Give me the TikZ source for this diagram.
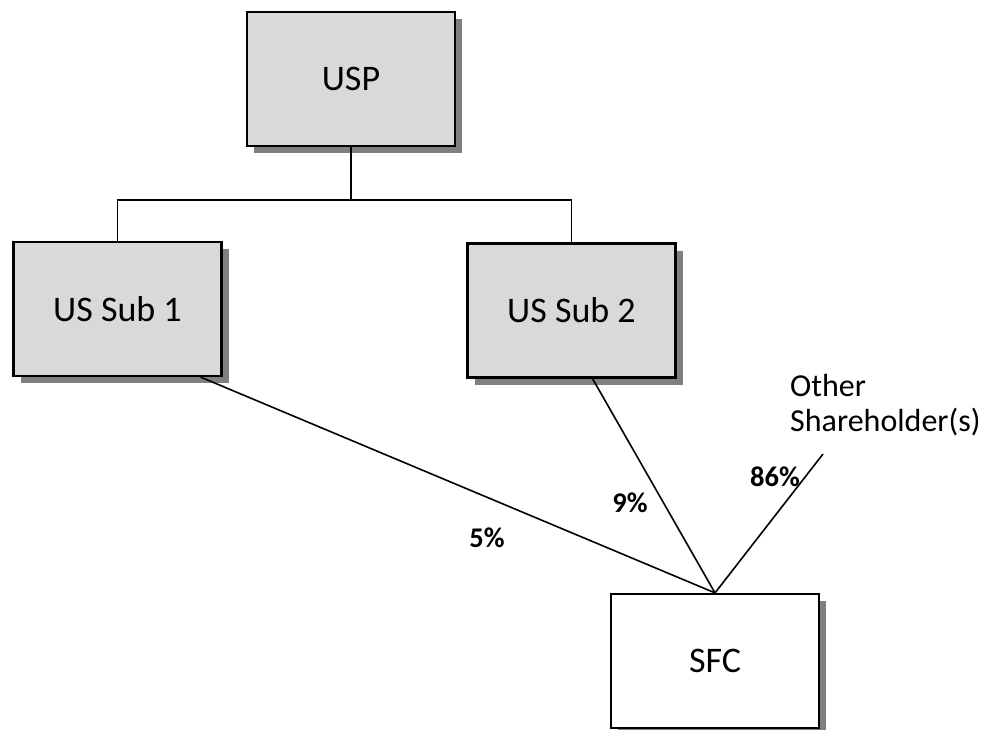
\documentclass[tikz,border=0pt]{standalone}
\usepackage{fontspec}
\setmainfont{Carlito}
\usetikzlibrary{shadows,calc}
\definecolor{boxgray}{HTML}{D9D9D9}
\definecolor{shadowgray}{HTML}{808080}
\tikzset{
  entity/.style={draw=black, line width=2.2pt, rectangle, minimum width=208pt,
    minimum height=134pt, inner sep=0pt, font=\fontsize{36}{40}\selectfont,
    drop shadow={shadow xshift=7pt, shadow yshift=-7pt, opacity=1, fill=shadowgray}},
  usent/.style={entity, fill=boxgray},
  foreign/.style={entity, fill=white},
  link/.style={draw=black, line width=1.6pt},
  pct/.style={font=\bfseries\fontsize{28.5}{32}\selectfont, inner sep=0pt},
  note/.style={font=\fontsize{32}{35}\selectfont, align=left, inner sep=0pt}
}
\begin{document}
\begin{tikzpicture}[x=1pt, y=-1pt]
  \useasboundingbox (0,0) rectangle (983,729);

  % ownership entities
  \node[usent] (usp)  at (351,79)    {USP};
  \node[usent] (sub1) at (117.5,309) {US Sub 1};
  \node[usent] (sub2) at (571.5,310.5) {US Sub 2};
  \node[foreign] (sfc) at (715,661)  {SFC};

  % parent to subsidiaries
  \coordinate (bus) at (351,200);
  \draw[link] (usp.south) -- (bus);
  \draw[link] (sub1.north) |- (bus) -| (sub2.north);

  % holdings in SFC
  \coordinate (s1out) at ([xshift=-22pt]sub1.south east);
  \coordinate (s2out) at ([xshift=21pt]sub2.south);
  \coordinate (others) at (823,454);
  \draw[link] (s1out) -- (sfc.north);
  \draw[link] (s2out) -- (sfc.north);
  \draw[link] (others) -- (sfc.north);

  \node[note, anchor=north west] (otherlbl) at (790,374) {Other\\Shareholder(s)};

  \node[pct] (p5)  at (487,538) {5\%};
  \node[pct] (p9)  at (630,503) {9\%};
  \node[pct] (p86) at (775,477) {86\%};
\end{tikzpicture}
\end{document}
